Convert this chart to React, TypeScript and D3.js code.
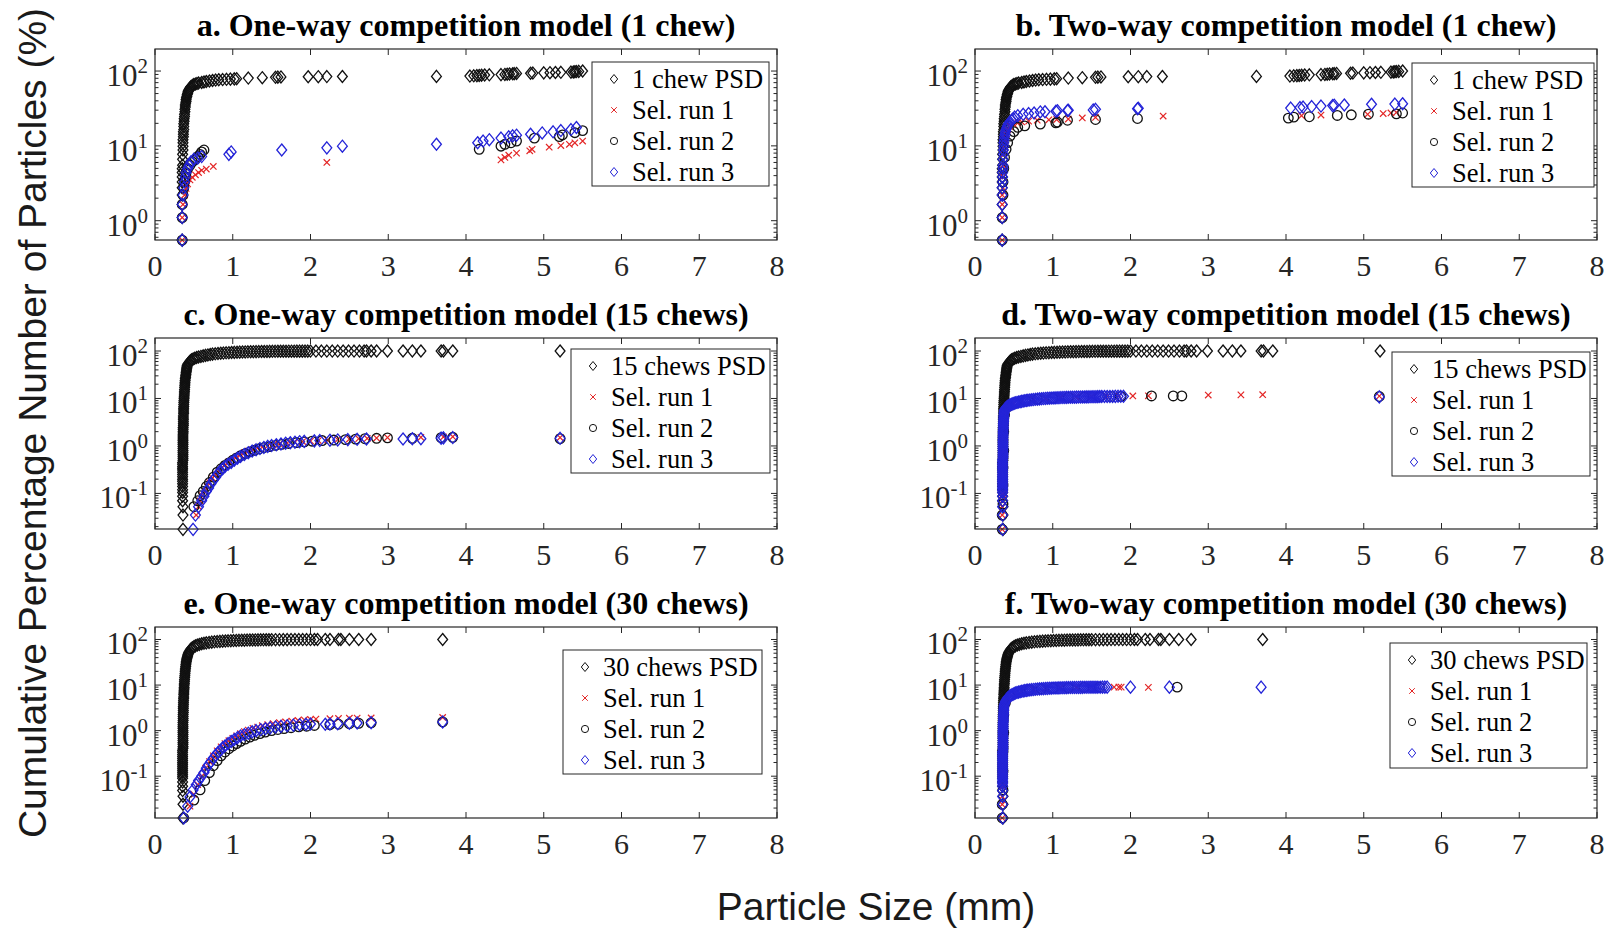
import React from 'react';
import * as d3 from 'd3';

type Pt = [number, number];

// ---------- axes ----------
const X_DOMAIN: [number, number] = [0, 8];
const X_TICKS = [0, 1, 2, 3, 4, 5, 6, 7, 8];
const Y_LIMITS_1_CHEW: [number, number] = [0.552, 197];
const Y_LIMITS_15_CHEWS: [number, number] = [0.0178, 188];
const Y_LIMITS_30_CHEWS: [number, number] = [0.0121, 188];
const DECADES_1_CHEW = [0, 1, 2];
const DECADES_MULTI = [-1, 0, 1, 2];

const PANEL_TITLES = [
  'a. One-way competition model (1 chew)',
  'b. Two-way competition model (1 chew)',
  'c. One-way competition model (15 chews)',
  'd. Two-way competition model (15 chews)',
  'e. One-way competition model (30 chews)',
  'f. Two-way competition model (30 chews)',
];
const PSD_LABELS = ['1 chew PSD', '15 chews PSD', '30 chews PSD'];
const RUN_LABELS = ['Sel. run 1', 'Sel. run 2', 'Sel. run 3'];
const Y_LABEL = 'Cumulative Percentage Number of Particles (%)';
const X_LABEL = 'Particle Size (mm)';

// ---------- particle size distributions (x: mm, y: cumulative %) ----------
const PSD_1_CHEW: Pt[] = [
  [0.35, 0.55], [0.35, 1.1], [0.35, 1.65], [0.35, 2.2], [0.35, 2.75], [0.35, 3.3], [0.35, 3.85], [0.35, 4.4],
  [0.35, 4.95], [0.355, 5.5], [0.355, 6.6], [0.355, 7.7], [0.36, 8.8], [0.36, 9.9], [0.36, 11], [0.36, 12.1],
  [0.365, 13.2], [0.365, 14.3], [0.365, 15.4], [0.37, 16.5], [0.37, 18.1], [0.37, 19.8], [0.375, 21.4],
  [0.375, 23.1], [0.38, 24.7], [0.38, 26.4], [0.385, 28.6], [0.385, 30.8], [0.39, 33], [0.39, 35.2],
  [0.395, 37.4], [0.4, 39.6], [0.4, 41.8], [0.405, 44], [0.41, 46.2], [0.415, 48.4], [0.42, 50.5],
  [0.425, 52.7], [0.43, 54.9], [0.44, 57.1], [0.45, 59.3], [0.46, 61.5], [0.475, 63.2], [0.49, 64.8],
  [0.5, 66], [0.52, 67], [0.54, 68], [0.56, 69.2], [0.6, 70.3], [0.63, 71.4], [0.66, 72.5], [0.7, 73.6],
  [0.74, 74.7], [0.78, 75.8], [0.82, 76.4], [0.87, 76.9], [0.92, 77.5], [0.97, 78], [1.02, 78.6],
  [1.05, 79.1], [1.2, 80.5], [1.38, 81.5], [1.55, 82.4], [1.58, 82.9], [1.62, 83.4], [1.97, 83.8],
  [2.1, 84.1], [2.21, 84.4], [2.41, 84.6], [3.62, 84.8], [4.05, 85.7], [4.1, 86.3], [4.14, 86.8],
  [4.17, 87.4], [4.2, 87.9], [4.24, 88.5], [4.3, 89], [4.45, 89.6], [4.5, 90.1], [4.53, 90.7],
  [4.56, 91.2], [4.6, 91.8], [4.62, 92.3], [4.65, 92.9], [4.83, 93.4], [4.86, 94], [5.0, 94.5],
  [5.08, 95.1], [5.15, 95.6], [5.22, 96.2], [5.35, 96.7], [5.38, 97.3], [5.4, 97.8], [5.42, 98.4],
  [5.45, 98.9], [5.5, 100],
];

const PSD_15_CHEWS: Pt[] = [
  [0.36, 0.0175], [0.36, 0.035], [0.36, 0.0525], [0.355, 0.07], [0.355, 0.0875], [0.355, 0.105],
  [0.355, 0.12], [0.355, 0.14], [0.355, 0.16], [0.355, 0.18], [0.355, 0.2], [0.355, 0.225], [0.355, 0.25],
  [0.355, 0.28], [0.355, 0.31], [0.355, 0.34], [0.355, 0.37], [0.355, 0.41], [0.355, 0.45], [0.36, 0.5],
  [0.36, 0.55], [0.36, 0.61], [0.36, 0.67], [0.36, 0.74], [0.36, 0.8], [0.36, 0.88], [0.36, 0.97],
  [0.36, 1.07], [0.36, 1.17], [0.36, 1.28], [0.36, 1.4], [0.36, 1.55], [0.36, 1.7], [0.362, 1.87],
  [0.362, 2.05], [0.362, 2.25], [0.362, 2.45], [0.365, 2.7], [0.365, 2.95], [0.365, 3.25], [0.365, 3.55],
  [0.365, 3.9], [0.365, 4.3], [0.368, 4.75], [0.368, 5.2], [0.368, 5.7], [0.368, 6.2], [0.37, 6.8],
  [0.37, 7.5], [0.371, 8.2], [0.372, 9], [0.374, 9.9], [0.375, 10.8], [0.377, 11.9], [0.378, 13],
  [0.379, 14.2], [0.38, 15.5], [0.382, 17], [0.383, 18.5], [0.385, 20.2], [0.386, 22], [0.388, 24],
  [0.39, 26], [0.393, 28], [0.395, 30], [0.398, 32.5], [0.4, 35], [0.403, 37.5], [0.405, 40], [0.408, 42.5],
  [0.41, 45], [0.413, 47.5], [0.415, 50], [0.425, 54], [0.44, 58],
  [0.455, 62], [0.47, 65], [0.49, 68], [0.51, 70.5], [0.535, 73], [0.56, 75], [0.59, 77], [0.62, 79],
  [0.65, 81], [0.68, 82.8], [0.71, 84.5], [0.74, 86], [0.775, 87.3], [0.81, 88.5], [0.845, 89.6],
  [0.88, 90.6], [0.915, 91.5], [0.95, 92.3], [0.985, 93], [1.02, 93.7], [1.055, 94.3], [1.09, 94.8],
  [1.125, 95.3], [1.16, 95.7], [1.195, 96.1], [1.23, 96.5], [1.265, 96.8], [1.3, 97.1], [1.335, 97.4],
  [1.37, 97.6], [1.405, 97.8], [1.44, 98], [1.475, 98.2], [1.51, 98.4], [1.545, 98.5], [1.58, 98.7],
  [1.615, 98.8], [1.65, 98.9], [1.685, 99], [1.72, 99.1], [1.755, 99.2], [1.79, 99.3], [1.825, 99.35],
  [1.86, 99.4], [1.895, 99.45], [1.93, 99.5], [1.965, 99.55], [2.0, 99.6], [2.07, 99.64], [2.14, 99.68],
  [2.21, 99.72], [2.28, 99.75], [2.35, 99.78], [2.42, 99.8], [2.49, 99.83], [2.56, 99.85], [2.63, 99.87],
  [2.69, 99.88], [2.72, 99.89], [2.78, 99.9], [2.85, 99.91], [2.99, 99.93], [3.19, 99.95], [3.31, 99.96],
  [3.42, 99.96], [3.68, 99.97], [3.71, 99.98], [3.83, 99.99], [5.21, 100],
];

const PSD_30_CHEWS: Pt[] = [
  [0.36, 0.0121], [0.36, 0.0242], [0.36, 0.0363], [0.355, 0.0484], [0.355, 0.0605], [0.355, 0.075],
  [0.355, 0.09], [0.355, 0.1], [0.355, 0.11], [0.355, 0.122], [0.355, 0.135], [0.355, 0.15], [0.355, 0.165],
  [0.355, 0.182], [0.355, 0.2], [0.355, 0.222], [0.355, 0.245], [0.355, 0.27], [0.355, 0.3], [0.355, 0.335],
  [0.355, 0.37], [0.36, 0.41], [0.36, 0.45], [0.36, 0.5], [0.36, 0.55], [0.36, 0.61], [0.36, 0.67],
  [0.36, 0.74], [0.36, 0.82], [0.36, 0.91], [0.36, 1.0], [0.36, 1.11], [0.36, 1.22], [0.36, 1.35],
  [0.36, 1.5], [0.362, 1.67], [0.362, 1.85], [0.362, 2.05], [0.362, 2.25], [0.364, 2.5], [0.364, 2.75],
  [0.364, 3.05], [0.364, 3.35], [0.366, 3.7], [0.366, 4.1], [0.367, 4.55], [0.368, 5], [0.369, 5.5],
  [0.37, 6.1], [0.371, 6.7], [0.372, 7.4], [0.374, 8.2], [0.375, 9], [0.376, 10], [0.378, 11],
  [0.379, 12.1], [0.38, 13.3], [0.382, 14.6], [0.384, 16], [0.386, 17.7], [0.388, 19.5], [0.39, 21.5],
  [0.392, 23.5], [0.395, 25.7], [0.397, 28], [0.4, 30.5], [0.403, 33], [0.406, 35.5], [0.41, 38],
  [0.414, 40.5], [0.418, 43], [0.422, 45.5], [0.427, 48], [0.432, 50.5],
  [0.437, 53], [0.45, 58], [0.465, 62.5], [0.48, 66], [0.5, 69.5], [0.52, 72.5], [0.545, 75.5],
  [0.57, 78], [0.6, 80.5], [0.63, 82.5], [0.66, 84.3], [0.695, 86], [0.73, 87.5], [0.765, 88.8],
  [0.8, 90], [0.835, 91], [0.87, 92], [0.905, 92.8], [0.94, 93.5], [0.975, 94.2], [1.01, 94.8],
  [1.045, 95.3], [1.08, 95.8], [1.115, 96.2], [1.15, 96.6], [1.185, 97], [1.22, 97.3], [1.255, 97.6],
  [1.29, 97.9], [1.325, 98.1], [1.36, 98.3], [1.395, 98.5], [1.43, 98.7], [1.465, 98.85], [1.5, 99],
  [1.55, 99.1], [1.6, 99.2], [1.65, 99.3], [1.7, 99.4], [1.75, 99.5], [1.8, 99.55], [1.85, 99.6],
  [1.9, 99.65], [1.95, 99.7], [2.0, 99.75], [2.05, 99.8], [2.09, 99.82], [2.19, 99.85], [2.25, 99.88],
  [2.36, 99.9], [2.39, 99.91], [2.5, 99.93], [2.62, 99.95], [2.78, 99.97], [3.7, 100],
];

// ---------- selection runs ----------
const ONE_WAY_1_RUN1: Pt[] = [
  [0.35, 0.55], [0.35, 1.1], [0.36, 1.65], [0.38, 2.2], [0.4, 2.7], [0.42, 3.1], [0.45, 3.5], [0.48, 3.8],
  [0.52, 4.1], [0.56, 4.4], [0.6, 4.7], [0.66, 4.9], [0.75, 5.3], [2.21, 6.0], [4.45, 6.5], [4.5, 7.0],
  [4.55, 7.5], [4.65, 8.0], [4.82, 8.6], [4.85, 9.0], [5.07, 9.6], [5.22, 10.1], [5.33, 10.5], [5.4, 11],
  [5.5, 11.6],
];
const ONE_WAY_1_RUN2: Pt[] = [
  [0.35, 0.55], [0.35, 1.1], [0.35, 1.65], [0.36, 2.2], [0.37, 2.75], [0.38, 3.3], [0.39, 3.85], [0.4, 4.4],
  [0.42, 5], [0.45, 5.5], [0.48, 6.1], [0.52, 6.6], [0.55, 7.2], [0.58, 7.7], [0.6, 8.3], [0.63, 8.8],
  [4.17, 9.0], [4.45, 9.9], [4.5, 10.5], [4.58, 11], [4.65, 11.6], [4.88, 12.7], [5.2, 13.3], [5.24, 14],
  [5.4, 15], [5.5, 16],
];
const ONE_WAY_1_RUN3: Pt[] = [
  [0.35, 0.55], [0.35, 1.1], [0.35, 1.65], [0.36, 2.2], [0.37, 2.75], [0.38, 3.3], [0.39, 3.85], [0.4, 4.4],
  [0.42, 5], [0.44, 5.5], [0.46, 6.1], [0.5, 6.6], [0.55, 6.9], [0.6, 7.2], [0.95, 7.7], [0.98, 8.3],
  [1.63, 8.8], [2.21, 9.4], [2.41, 9.9], [3.62, 10.5], [4.15, 11], [4.22, 11.6], [4.3, 12.1], [4.45, 12.7],
  [4.55, 13.2], [4.6, 13.6], [4.65, 13.9], [4.83, 14.3], [4.98, 14.9], [5.12, 15.4], [5.22, 16],
  [5.35, 16.5], [5.42, 17.6],
];

const TWO_WAY_1_RUN1: Pt[] = [
  [0.35, 0.55], [0.35, 1.1], [0.35, 1.65], [0.35, 2.2], [0.36, 2.75], [0.36, 3.85], [0.36, 5.5], [0.37, 7.7],
  [0.38, 9.9], [0.39, 12.1], [0.4, 14.3], [0.42, 16.5], [0.45, 18.1], [0.5, 19.2], [0.55, 20.3], [0.6, 20.9],
  [0.69, 21.4], [0.8, 22], [0.95, 22.3], [1.05, 22.5], [1.2, 22.8], [1.38, 23.6], [1.55, 24], [2.42, 25],
  [4.2, 25.3], [4.45, 25.8], [5.05, 26.4], [5.25, 27], [5.35, 27.5], [5.42, 28],
];
const TWO_WAY_1_RUN2: Pt[] = [
  [0.35, 0.55], [0.35, 1.1], [0.36, 2.2], [0.36, 3.3], [0.37, 5], [0.38, 7], [0.4, 9], [0.42, 11],
  [0.45, 13.5], [0.5, 15.5], [0.55, 17.7], [0.64, 18.5], [0.84, 19.5], [1.04, 20.3], [1.06, 20.8],
  [1.19, 22], [1.55, 22.5], [2.09, 23.2], [4.03, 23.5], [4.1, 24.2], [4.3, 24.5], [4.66, 25.5],
  [4.84, 26], [5.06, 26.5], [5.42, 26.8], [5.5, 27.5],
];
const TWO_WAY_1_RUN3: Pt[] = [
  [0.35, 0.55], [0.35, 1.1], [0.35, 1.65], [0.35, 2.2], [0.35, 2.75], [0.355, 3.3], [0.355, 3.85],
  [0.355, 4.4], [0.36, 5.0], [0.36, 5.5], [0.36, 6.6], [0.365, 7.7], [0.365, 8.8], [0.37, 9.9], [0.37, 11],
  [0.375, 12.1], [0.38, 13.2], [0.385, 14.3], [0.39, 15.4], [0.4, 16.5], [0.41, 17.6], [0.42, 18.7],
  [0.43, 19.8], [0.45, 20.9], [0.47, 22], [0.49, 23.1], [0.51, 24.2], [0.55, 25.3], [0.62, 26.4],
  [0.69, 27], [0.76, 27.5], [0.84, 28.4], [0.9, 28.6], [1.04, 29], [1.06, 29.5], [1.19, 29.7], [1.2, 30],
  [1.52, 30.2], [1.55, 30.8], [2.09, 31.3], [2.1, 31.9], [4.06, 32], [4.18, 32.5], [4.22, 33],
  [4.33, 33.5], [4.45, 34], [4.6, 34.5], [4.62, 35], [4.75, 35.2], [5.1, 36], [5.4, 36.2], [5.5, 36.5],
];

const ONE_WAY_15_RUN1: Pt[] = [
  [0.53, 0.035], [0.56, 0.0525], [0.58, 0.07], [0.61, 0.09], [0.64, 0.11], [0.67, 0.14], [0.7, 0.17],
  [0.74, 0.21], [0.78, 0.25], [0.82, 0.3], [0.86, 0.35], [0.9, 0.4], [0.95, 0.46], [1.0, 0.52],
  [1.05, 0.58], [1.1, 0.65], [1.15, 0.72], [1.2, 0.78], [1.26, 0.84], [1.32, 0.9], [1.38, 0.95],
  [1.45, 1.0], [1.52, 1.05], [1.6, 1.1], [1.7, 1.15], [1.8, 1.2], [1.9, 1.24], [2.0, 1.27], [2.1, 1.3],
  [2.22, 1.33], [2.35, 1.36], [2.5, 1.4], [2.62, 1.42], [2.73, 1.44], [2.85, 1.47], [2.99, 1.5],
  [3.42, 1.52], [3.71, 1.55], [3.83, 1.57], [5.21, 1.5],
];
const ONE_WAY_15_RUN2: Pt[] = [
  [0.5, 0.0525], [0.55, 0.07], [0.58, 0.09], [0.62, 0.11], [0.66, 0.14], [0.7, 0.17], [0.75, 0.22],
  [0.8, 0.28], [0.85, 0.33], [0.9, 0.39], [0.95, 0.44], [1.0, 0.5], [1.05, 0.56], [1.1, 0.62],
  [1.16, 0.69], [1.22, 0.75], [1.28, 0.81], [1.34, 0.87], [1.4, 0.92], [1.47, 0.97], [1.55, 1.03],
  [1.63, 1.08], [1.72, 1.13], [1.82, 1.18], [1.92, 1.22], [2.02, 1.26], [2.15, 1.3], [2.3, 1.33],
  [2.45, 1.36], [2.58, 1.39], [2.7, 1.42], [2.85, 1.45], [2.99, 1.48], [3.31, 1.45], [3.68, 1.5],
  [3.83, 1.52], [5.21, 1.42],
];
const ONE_WAY_15_RUN3: Pt[] = [
  [0.49, 0.0175], [0.52, 0.035], [0.56, 0.0525], [0.6, 0.07], [0.63, 0.0875], [0.66, 0.11], [0.69, 0.13],
  [0.72, 0.16], [0.75, 0.19], [0.78, 0.22], [0.81, 0.26], [0.84, 0.3], [0.87, 0.33], [0.9, 0.37],
  [0.94, 0.41], [0.98, 0.45], [1.02, 0.5], [1.06, 0.55], [1.1, 0.6], [1.15, 0.66], [1.2, 0.72],
  [1.25, 0.78], [1.3, 0.83], [1.35, 0.88], [1.4, 0.93], [1.45, 0.98], [1.5, 1.02], [1.56, 1.06],
  [1.62, 1.1], [1.68, 1.14], [1.74, 1.17], [1.8, 1.2], [1.86, 1.23], [1.92, 1.25], [2.05, 1.28],
  [2.12, 1.3], [2.25, 1.32], [2.35, 1.34], [2.48, 1.36], [2.6, 1.38], [2.72, 1.4], [3.19, 1.4],
  [3.31, 1.42], [3.42, 1.42], [3.68, 1.46], [3.71, 1.48], [3.83, 1.5], [5.21, 1.45],
];

const TWO_WAY_15_RUN1: Pt[] = [
  [0.35, 0.0175], [0.35, 0.035], [0.35, 0.0525], [0.35, 0.07], [0.36, 0.1], [0.36, 0.2], [0.36, 0.4],
  [0.36, 0.8], [0.37, 1.5], [0.37, 3], [0.38, 5], [0.42, 6.8], [0.5, 7.9], [0.6, 8.8], [0.75, 9.6],
  [0.9, 10.1], [1.1, 10.5], [1.3, 10.8], [1.5, 11], [1.7, 11.1], [1.85, 11.2], [2.03, 11.3], [2.23, 11.4],
  [3.0, 11.8], [3.42, 11.9], [3.7, 12], [5.2, 11.2],
];
const TWO_WAY_15_RUN2: Pt[] = [
  [0.35, 0.0175], [0.35, 0.035], [0.36, 0.06], [0.36, 0.15], [0.36, 0.35], [0.37, 0.8], [0.37, 2],
  [0.38, 4.5], [0.43, 6.8], [0.52, 8], [0.65, 9], [0.8, 9.7], [1.0, 10.2], [1.2, 10.5], [1.4, 10.7],
  [1.6, 10.9], [1.75, 11], [1.88, 11.1], [2.27, 11.3], [2.55, 11.3], [2.66, 11.3], [5.2, 11],
];
const TWO_WAY_15_RUN3: Pt[] = [
  [0.355, 0.0175], [0.355, 0.035], [0.355, 0.0525], [0.355, 0.07], [0.355, 0.0875], [0.355, 0.105],
  [0.355, 0.115], [0.355, 0.125], [0.355, 0.137], [0.355, 0.15], [0.355, 0.165], [0.355, 0.18],
  [0.355, 0.195], [0.355, 0.21], [0.355, 0.23], [0.355, 0.25], [0.355, 0.275], [0.355, 0.3],
  [0.355, 0.33], [0.355, 0.36], [0.355, 0.395], [0.355, 0.43], [0.355, 0.475], [0.355, 0.52],
  [0.36, 0.57], [0.36, 0.62], [0.36, 0.68], [0.36, 0.74], [0.36, 0.81], [0.36, 0.88], [0.36, 0.96],
  [0.36, 1.05], [0.36, 1.15], [0.36, 1.25], [0.36, 1.37], [0.36, 1.5], [0.362, 1.65], [0.362, 1.8],
  [0.362, 1.95], [0.362, 2.1], [0.365, 2.3], [0.365, 2.5], [0.365, 2.75], [0.365, 3.0], [0.368, 3.25],
  [0.368, 3.5], [0.37, 3.8], [0.37, 4.1], [0.372, 4.45], [0.373, 4.8], [0.375, 5.15], [0.377, 5.5],
  [0.383, 5.8], [0.39, 6.1], [0.4, 6.35], [0.41, 6.6], [0.42, 6.8], [0.43, 7.0], [0.445, 7.2],
  [0.46, 7.4], [0.475, 7.6], [0.49, 7.8], [0.505, 7.95], [0.52, 8.1], [0.54, 8.25], [0.56, 8.4],
  [0.58, 8.55], [0.6, 8.7], [0.62, 8.82], [0.64, 8.95], [0.66, 9.07], [0.68, 9.2], [0.705, 9.3],
  [0.73, 9.4], [0.755, 9.5], [0.78, 9.6], [0.805, 9.7], [0.83, 9.8], [0.855, 9.88], [0.88, 9.95],
  [0.905, 10.02], [0.93, 10.1], [0.955, 10.15], [0.98, 10.2], [1.005, 10.25], [1.03, 10.3],
  [1.055, 10.35], [1.08, 10.4], [1.105, 10.45], [1.13, 10.5], [1.155, 10.52], [1.18, 10.55],
  [1.205, 10.57], [1.23, 10.6], [1.255, 10.62], [1.28, 10.65], [1.305, 10.67], [1.33, 10.7],
  [1.355, 10.72], [1.38, 10.75], [1.405, 10.77], [1.43, 10.8], [1.455, 10.82], [1.48, 10.85],
  [1.505, 10.87], [1.53, 10.9], [1.555, 10.92], [1.58, 10.95], [1.605, 10.97], [1.63, 11], [1.665, 11],
  [1.7, 11], [1.735, 11.02], [1.77, 11.05], [1.805, 11.07], [1.84, 11.1], [1.875, 11.1], [1.91, 11.1],
  [5.2, 10.8],
];

const ONE_WAY_30_RUN1: Pt[] = [
  [0.45, 0.022], [0.5, 0.04], [0.55, 0.065], [0.6, 0.1], [0.65, 0.15], [0.7, 0.21], [0.75, 0.28],
  [0.8, 0.36], [0.85, 0.44], [0.9, 0.52], [0.95, 0.6], [1.0, 0.68], [1.05, 0.77], [1.1, 0.86],
  [1.15, 0.95], [1.2, 1.03], [1.26, 1.12], [1.32, 1.2], [1.38, 1.28], [1.45, 1.36], [1.52, 1.43],
  [1.6, 1.5], [1.68, 1.56], [1.76, 1.62], [1.84, 1.67], [1.92, 1.72], [2.0, 1.76], [2.07, 1.8],
  [2.25, 1.83], [2.36, 1.85], [2.5, 1.87], [2.6, 1.88], [2.78, 1.9], [3.7, 1.95],
];
const ONE_WAY_30_RUN2: Pt[] = [
  [0.37, 0.0121], [0.5, 0.03], [0.58, 0.05], [0.64, 0.08], [0.7, 0.12], [0.75, 0.17], [0.8, 0.22],
  [0.85, 0.28], [0.9, 0.34], [0.95, 0.4], [1.0, 0.46], [1.05, 0.52], [1.1, 0.58], [1.16, 0.65],
  [1.22, 0.72], [1.28, 0.79], [1.35, 0.86], [1.42, 0.93], [1.5, 1.0], [1.58, 1.06], [1.66, 1.11],
  [1.75, 1.16], [1.85, 1.21], [1.95, 1.25], [2.05, 1.3], [2.25, 1.35], [2.36, 1.38], [2.5, 1.42],
  [2.62, 1.45], [2.78, 1.48], [3.7, 1.55],
];
const ONE_WAY_30_RUN3: Pt[] = [
  [0.37, 0.0121], [0.42, 0.022], [0.45, 0.035], [0.49, 0.05], [0.53, 0.065], [0.56, 0.08], [0.6, 0.1],
  [0.63, 0.12], [0.66, 0.15], [0.69, 0.18], [0.72, 0.21], [0.75, 0.25], [0.78, 0.29], [0.81, 0.33],
  [0.84, 0.37], [0.87, 0.42], [0.9, 0.46], [0.94, 0.52], [0.98, 0.58], [1.02, 0.64], [1.06, 0.7],
  [1.1, 0.76], [1.15, 0.82], [1.2, 0.88], [1.25, 0.94], [1.3, 1.0], [1.36, 1.05], [1.42, 1.1],
  [1.48, 1.15], [1.55, 1.2], [1.62, 1.24], [1.7, 1.28], [1.78, 1.32], [1.86, 1.35], [1.94, 1.38],
  [2.0, 1.4], [2.19, 1.38], [2.25, 1.4], [2.35, 1.42], [2.5, 1.45], [2.6, 1.47], [2.78, 1.5], [3.7, 1.55],
];

const TWO_WAY_30_RUN1: Pt[] = [
  [0.35, 0.0121], [0.35, 0.024], [0.35, 0.036], [0.36, 0.06], [0.36, 0.12], [0.36, 0.3], [0.36, 0.7],
  [0.37, 1.5], [0.38, 3], [0.42, 4.8], [0.5, 6.4], [0.6, 7.3], [0.75, 8.0], [0.9, 8.4], [1.1, 8.7],
  [1.3, 8.85], [1.5, 8.95], [1.79, 9.0], [1.85, 9.0], [1.88, 9.0], [2.23, 8.9],
];
const TWO_WAY_30_RUN2: Pt[] = [
  [0.35, 0.0121], [0.35, 0.024], [0.36, 0.05], [0.36, 0.13], [0.36, 0.35], [0.37, 0.9], [0.37, 2.2],
  [0.39, 4], [0.45, 5.9], [0.55, 7], [0.7, 7.9], [0.85, 8.3], [1.0, 8.6], [1.2, 8.8], [1.4, 8.9],
  [1.6, 9.0], [2.6, 9.0],
];
const TWO_WAY_30_RUN3: Pt[] = [
  [0.355, 0.0121], [0.355, 0.024], [0.355, 0.036], [0.355, 0.048], [0.355, 0.06], [0.355, 0.068],
  [0.355, 0.075], [0.355, 0.083], [0.355, 0.09], [0.355, 0.1], [0.355, 0.11], [0.355, 0.122],
  [0.355, 0.135], [0.355, 0.15], [0.355, 0.165], [0.355, 0.182], [0.355, 0.2], [0.355, 0.22],
  [0.355, 0.24], [0.355, 0.265], [0.355, 0.29], [0.355, 0.32], [0.355, 0.35], [0.36, 0.385],
  [0.36, 0.42], [0.36, 0.46], [0.36, 0.5], [0.36, 0.55], [0.36, 0.6], [0.36, 0.66], [0.36, 0.72],
  [0.36, 0.79], [0.36, 0.86], [0.36, 0.94], [0.36, 1.03], [0.362, 1.13], [0.362, 1.23], [0.362, 1.35],
  [0.362, 1.47], [0.365, 1.6], [0.365, 1.75], [0.365, 1.92], [0.365, 2.1], [0.368, 2.3], [0.368, 2.5],
  [0.37, 2.75], [0.37, 3.0], [0.372, 3.3], [0.375, 3.6], [0.382, 3.95], [0.39, 4.3], [0.4, 4.6],
  [0.41, 4.9], [0.42, 5.15], [0.43, 5.4], [0.445, 5.65], [0.46, 5.9], [0.475, 6.1], [0.49, 6.3],
  [0.505, 6.5], [0.52, 6.7], [0.54, 6.85], [0.56, 7.0], [0.58, 7.15], [0.6, 7.3], [0.62, 7.42],
  [0.64, 7.55], [0.66, 7.65], [0.68, 7.75], [0.705, 7.85], [0.73, 7.95], [0.755, 8.02], [0.78, 8.1],
  [0.805, 8.17], [0.83, 8.25], [0.855, 8.3], [0.88, 8.35], [0.905, 8.4], [0.93, 8.45], [0.955, 8.5],
  [0.98, 8.55], [1.005, 8.58], [1.03, 8.62], [1.055, 8.65], [1.08, 8.68], [1.105, 8.71], [1.13, 8.74],
  [1.155, 8.76], [1.18, 8.78], [1.205, 8.8], [1.23, 8.82], [1.255, 8.84], [1.28, 8.85], [1.305, 8.87],
  [1.33, 8.88], [1.355, 8.89], [1.38, 8.9], [1.405, 8.91], [1.43, 8.92], [1.455, 8.93], [1.48, 8.94],
  [1.505, 8.95], [1.53, 8.96], [1.555, 8.97], [1.58, 8.98], [1.61, 8.99], [1.64, 9.0], [1.67, 9.0],
  [1.7, 9.0], [2.0, 9.0], [2.5, 9.0], [3.68, 9.0],
];

// ---------- layout ----------
const WIDTH = 1607;
const HEIGHT = 928;
const COLS = [
  { left: 155, right: 777 },
  { left: 975, right: 1597 },
];
const ROWS = [
  { top: 49, bottom: 240 },
  { top: 338, bottom: 529 },
  { top: 627, bottom: 818 },
];
const LEGEND_BOXES = [
  { x: 592, y: 62, w: 177, h: 124 },
  { x: 1412, y: 63, w: 182, h: 124 },
  { x: 571, y: 349, w: 199, h: 124 },
  { x: 1392, y: 352, w: 198, h: 124 },
  { x: 563, y: 650, w: 199, h: 124 },
  { x: 1390, y: 643, w: 197, h: 125 },
];

const SERIF = '"Liberation Serif", "Times New Roman", serif';
const SANS = '"Liberation Sans", Arial, Helvetica, sans-serif';
const AXIS_COLOR = '#262626';
const COLOR_PSD = '#111111';
const COLOR_RUN1 = '#e32626';
const COLOR_RUN2 = '#111111';
const COLOR_RUN3 = '#2424d8';

type MarkerKind = 'diamond' | 'x' | 'circle';

interface PanelSpec {
  title: string;
  col: number;
  row: number;
  yLimits: [number, number];
  decades: number[];
  psd: Pt[];
  psdLabel: string;
  runs: [Pt[], Pt[], Pt[]];
  legend: { x: number; y: number; w: number; h: number };
}

const PANELS: PanelSpec[] = [
  { title: PANEL_TITLES[0], col: 0, row: 0, yLimits: Y_LIMITS_1_CHEW, decades: DECADES_1_CHEW, psd: PSD_1_CHEW, psdLabel: PSD_LABELS[0], runs: [ONE_WAY_1_RUN1, ONE_WAY_1_RUN2, ONE_WAY_1_RUN3], legend: LEGEND_BOXES[0] },
  { title: PANEL_TITLES[1], col: 1, row: 0, yLimits: Y_LIMITS_1_CHEW, decades: DECADES_1_CHEW, psd: PSD_1_CHEW, psdLabel: PSD_LABELS[0], runs: [TWO_WAY_1_RUN1, TWO_WAY_1_RUN2, TWO_WAY_1_RUN3], legend: LEGEND_BOXES[1] },
  { title: PANEL_TITLES[2], col: 0, row: 1, yLimits: Y_LIMITS_15_CHEWS, decades: DECADES_MULTI, psd: PSD_15_CHEWS, psdLabel: PSD_LABELS[1], runs: [ONE_WAY_15_RUN1, ONE_WAY_15_RUN2, ONE_WAY_15_RUN3], legend: LEGEND_BOXES[2] },
  { title: PANEL_TITLES[3], col: 1, row: 1, yLimits: Y_LIMITS_15_CHEWS, decades: DECADES_MULTI, psd: PSD_15_CHEWS, psdLabel: PSD_LABELS[1], runs: [TWO_WAY_15_RUN1, TWO_WAY_15_RUN2, TWO_WAY_15_RUN3], legend: LEGEND_BOXES[3] },
  { title: PANEL_TITLES[4], col: 0, row: 2, yLimits: Y_LIMITS_30_CHEWS, decades: DECADES_MULTI, psd: PSD_30_CHEWS, psdLabel: PSD_LABELS[2], runs: [ONE_WAY_30_RUN1, ONE_WAY_30_RUN2, ONE_WAY_30_RUN3], legend: LEGEND_BOXES[4] },
  { title: PANEL_TITLES[5], col: 1, row: 2, yLimits: Y_LIMITS_30_CHEWS, decades: DECADES_MULTI, psd: PSD_30_CHEWS, psdLabel: PSD_LABELS[2], runs: [TWO_WAY_30_RUN1, TWO_WAY_30_RUN2, TWO_WAY_30_RUN3], legend: LEGEND_BOXES[5] },
];

function markerPath(kind: MarkerKind, s: number): string {
  if (kind === 'diamond') {
    const w = s * 0.82;
    const h = s;
    return `M0,${-h}L${w},0L0,${h}L${-w},0Z`;
  }
  if (kind === 'x') {
    return `M${-s},${-s}L${s},${s}M${-s},${s}L${s},${-s}`;
  }
  return d3.symbol(d3.symbolCircle, Math.PI * s * s)() as string;
}

const SERIES_STYLE: { kind: MarkerKind; color: string; size: number; legendSize: number; width: number }[] = [
  { kind: 'diamond', color: COLOR_PSD, size: 6, legendSize: 4.5, width: 1.3 },
  { kind: 'x', color: COLOR_RUN1, size: 3.2, legendSize: 2.8, width: 1.2 },
  { kind: 'circle', color: COLOR_RUN2, size: 4.8, legendSize: 3.6, width: 1.3 },
  { kind: 'diamond', color: COLOR_RUN3, size: 6, legendSize: 4.5, width: 1.3 },
];

function Panel({ spec }: { spec: PanelSpec }) {
  const { left, right } = COLS[spec.col];
  const { top, bottom } = ROWS[spec.row];
  const x = d3.scaleLinear().domain(X_DOMAIN).range([left, right]);
  const y = d3.scaleLog().domain(spec.yLimits).range([bottom, top]);

  const [lo, hi] = spec.yLimits;
  const minor: number[] = [];
  for (let e = Math.floor(Math.log10(lo)); e <= Math.ceil(Math.log10(hi)); e++) {
    for (let m = 2; m <= 9; m++) {
      const v = m * Math.pow(10, e);
      if (v >= lo && v <= hi) minor.push(v);
    }
  }

  const series: Pt[][] = [spec.psd, ...spec.runs];
  const labels = [spec.psdLabel, ...RUN_LABELS];
  const majorLen = 6;
  const minorLen = 3.5;
  const lg = spec.legend;

  return (
    <g>
      <text
        x={(left + right) / 2}
        y={top - 13}
        textAnchor="middle"
        fontFamily={SERIF}
        fontWeight="bold"
        fontSize={32}
        fill="#000"
      >
        {spec.title}
      </text>

      {/* markers: size distribution first, selection runs on top */}
      {series.map((pts, si) => {
        const st = SERIES_STYLE[si];
        const d = markerPath(st.kind, st.size);
        return (
          <g key={si} fill="none" stroke={st.color} strokeWidth={st.width}>
            {pts.map((p, i) => (
              <path key={i} d={d} transform={`translate(${x(p[0])},${y(p[1])})`} />
            ))}
          </g>
        );
      })}

      {/* axes box with ticks on all four sides */}
      <rect x={left} y={top} width={right - left} height={bottom - top} fill="none" stroke={AXIS_COLOR} strokeWidth={1.2} />
      <g stroke={AXIS_COLOR} strokeWidth={1}>
        {X_TICKS.map((t) => (
          <g key={`xt${t}`}>
            <line x1={x(t)} x2={x(t)} y1={bottom} y2={bottom - majorLen} />
            <line x1={x(t)} x2={x(t)} y1={top} y2={top + majorLen} />
          </g>
        ))}
        {spec.decades.map((e) => {
          const yy = y(Math.pow(10, e));
          return (
            <g key={`yt${e}`}>
              <line x1={left} x2={left + majorLen} y1={yy} y2={yy} />
              <line x1={right} x2={right - majorLen} y1={yy} y2={yy} />
            </g>
          );
        })}
        {minor.map((v, i) => (
          <g key={`ym${i}`}>
            <line x1={left} x2={left + minorLen} y1={y(v)} y2={y(v)} />
            <line x1={right} x2={right - minorLen} y1={y(v)} y2={y(v)} />
          </g>
        ))}
      </g>

      {X_TICKS.map((t) => (
        <text key={`xl${t}`} x={x(t)} y={bottom + 36} textAnchor="middle" fontFamily={SERIF} fontSize={30} fill={AXIS_COLOR}>
          {t}
        </text>
      ))}
      {spec.decades.map((e) => (
        <text
          key={`yl${e}`}
          x={left - 7}
          y={y(Math.pow(10, e)) + 15}
          textAnchor="end"
          fontFamily={SERIF}
          fontSize={31}
          fill={AXIS_COLOR}
        >
          10
          <tspan dy={-13} fontSize={21}>
            {e}
          </tspan>
        </text>
      ))}

      {/* legend */}
      <g>
        <rect x={lg.x} y={lg.y} width={lg.w} height={lg.h} fill="#fff" stroke={AXIS_COLOR} strokeWidth={1} />
        {labels.map((lab, i) => {
          const st = SERIES_STYLE[i];
          const cy = lg.y + 17 + i * 31;
          return (
            <g key={lab}>
              <path
                d={markerPath(st.kind, st.legendSize)}
                transform={`translate(${lg.x + 22},${cy})`}
                fill="none"
                stroke={st.color}
                strokeWidth={1}
              />
              <text x={lg.x + 40} y={cy + 9} fontFamily={SERIF} fontSize={26.5} fill="#000">
                {lab}
              </text>
            </g>
          );
        })}
      </g>
    </g>
  );
}

export default function App() {
  return (
    <svg
      width={WIDTH}
      height={HEIGHT}
      viewBox={`0 0 ${WIDTH} ${HEIGHT}`}
      style={{ position: 'absolute', left: 0, top: 0, background: '#fff' }}
    >
      <rect x={0} y={0} width={WIDTH} height={HEIGHT} fill="#fff" />
      {PANELS.map((p, i) => (
        <Panel key={i} spec={p} />
      ))}
      <text
        transform="translate(46,423) rotate(-90)"
        textAnchor="middle"
        fontFamily={SANS}
        fontSize={39}
        fill="#1a1a1a"
      >
        {Y_LABEL}
      </text>
      <text x={876} y={920} textAnchor="middle" fontFamily={SANS} fontSize={39} fill="#1a1a1a">
        {X_LABEL}
      </text>
    </svg>
  );
}
